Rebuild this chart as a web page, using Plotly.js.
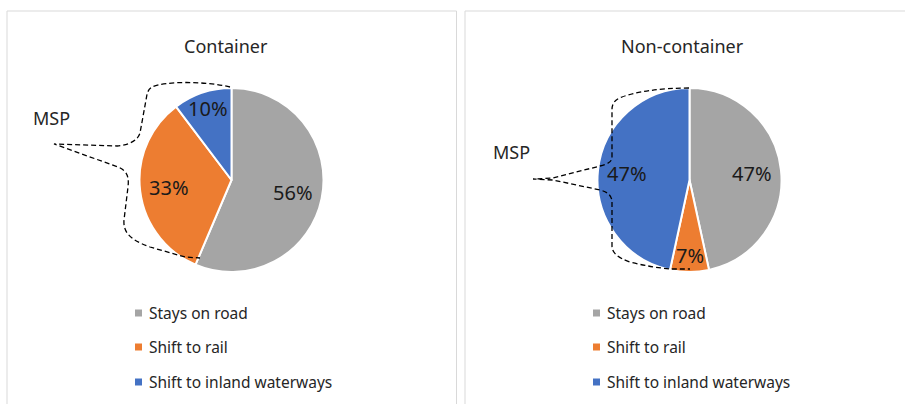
<!DOCTYPE html>
<html><head><meta charset="utf-8">
<script src="https://cdn.plot.ly/plotly-3.0.1.min.js"></script>
<style>html,body{margin:0;padding:0;background:#fff}#chart{width:905px;height:404px}</style>
</head><body><div id="chart"></div>
<script>
// ---- data ----
const categories = ["Stays on road", "Shift to rail", "Shift to inland waterways"];
const containerValues = [56.4, 33.3, 10.3];
const nonContainerValues = [46.6, 6.8, 46.6];
const panelTitles = ["Container", "Non-container"];
const sliceColors = ["#a5a5a5", "#ed7d31", "#4472c4"];
const bracketLabel = "MSP";

// ---- layout helpers ----
const W = 905, H = 404;
const px = x => x / W, py = y => 1 - y / H;
const FONT = '"Noto Sans", "Open Sans", sans-serif';
const TXT = '#262626';
const toPaper = p => p.replace(/(-?\d+\.?\d*),(-?\d+\.?\d*)/g,
  (m, a, b) => px(+a).toFixed(5) + ',' + py(+b).toFixed(5));

const panels = [
  {values: containerValues, title: panelTitles[0], cx: 231.5, cy: 180, r: 92,
   box: [7, 11, 456.5, 430], titleX: 226, mkX: 138.5, txX: 147, msp: [51, 118.5],
   brace: "M230,87 C205,81 165,81 152,87 C147,90 147,95 146,100 L140,133 C138,140 130,145 117,146 L54,144 L118,167 C128,171 129,178 128,187 L124,220 C123,232 130,240 150,247 L185,257 L200,258"},
  {values: nonContainerValues, title: panelTitles[1], cx: 689.5, cy: 180, r: 92,
   box: [465, 11, 930, 430], titleX: 682.5, mkX: 596.5, txX: 605, msp: [511.5, 151.5],
   brace: "M689,88 C660,88 635,92 622,97 C614,100 612,104 612,110 L612,157 C612,162 608,164 600,166 L553,178 L533,179 L553,180 L600,190 C608,192 612,196 612,202 L612,246 C612,253 618,258 630,262 C645,266 660,268 670,269 L690,269"}
];
const legendRows = [313, 347, 382];

const data = [], shapes = [], annotations = [];
panels.forEach(p => {
  data.push({
    type: 'pie', values: p.values, labels: categories, sort: false,
    direction: 'clockwise', rotation: 0,
    marker: {colors: sliceColors, line: {color: '#ffffff', width: 2}},
    textinfo: 'none', showlegend: false, hoverinfo: 'label+percent',
    domain: {x: [px(p.cx - p.r), px(p.cx + p.r)], y: [py(p.cy + p.r), py(p.cy - p.r)]}
  });
  // panel border
  shapes.push({type: 'rect', xref: 'paper', yref: 'paper', x0: px(p.box[0]), x1: px(p.box[2]),
    y0: py(p.box[1]), y1: py(p.box[3]), line: {color: '#d9d9d9', width: 1}, fillcolor: 'rgba(0,0,0,0)'});
  // title
  annotations.push({xref: 'paper', yref: 'paper', x: px(p.titleX), y: py(46), text: p.title,
    showarrow: false, xanchor: 'center', yanchor: 'middle', font: {family: FONT, size: 18, color: TXT}});
  // percentage labels from values
  const total = p.values.reduce((a, b) => a + b, 0);
  let cum = 0;
  p.values.forEach(v => {
    const frac = v / total;
    const th = 2 * Math.PI * (cum + frac / 2);
    cum += frac;
    const rr = p.r * (frac < 0.15 ? 0.82 : 0.68);
    annotations.push({xref: 'paper', yref: 'paper', x: px(p.cx + rr * Math.sin(th)), y: py(p.cy - rr * Math.cos(th)),
      text: Math.round(frac * 100) + '%', showarrow: false, xanchor: 'center', yanchor: 'middle',
      font: {family: FONT, size: 20, color: '#1a1a1a'}});
  });
  // legend
  categories.forEach((c, i) => {
    const y = legendRows[i];
    shapes.push({type: 'rect', xref: 'paper', yref: 'paper', x0: px(p.mkX - 3.5), x1: px(p.mkX + 3.5),
      y0: py(y + 3.5), y1: py(y - 3.5), line: {width: 0}, fillcolor: sliceColors[i]});
    annotations.push({xref: 'paper', yref: 'paper', x: px(p.txX), y: py(y), text: c, showarrow: false,
      xanchor: 'left', yanchor: 'middle', font: {family: FONT, size: 15.5, color: TXT}});
  });
  // MSP bracket
  annotations.push({xref: 'paper', yref: 'paper', x: px(p.msp[0]), y: py(p.msp[1]), text: bracketLabel,
    showarrow: false, xanchor: 'center', yanchor: 'middle', font: {family: FONT, size: 18, color: TXT}});
  shapes.push({type: 'path', xref: 'paper', yref: 'paper', path: toPaper(p.brace),
    line: {color: '#000000', width: 1.3, dash: '5px,3px'}, fillcolor: 'rgba(0,0,0,0)'});
});

const layout = {
  width: W, height: H, margin: {l: 0, r: 0, t: 0, b: 0},
  paper_bgcolor: '#ffffff', plot_bgcolor: '#ffffff', showlegend: false,
  font: {family: FONT, color: TXT}, shapes: shapes, annotations: annotations
};
Plotly.newPlot('chart', data, layout, {displayModeBar: false, staticPlot: true});
</script></body></html>
